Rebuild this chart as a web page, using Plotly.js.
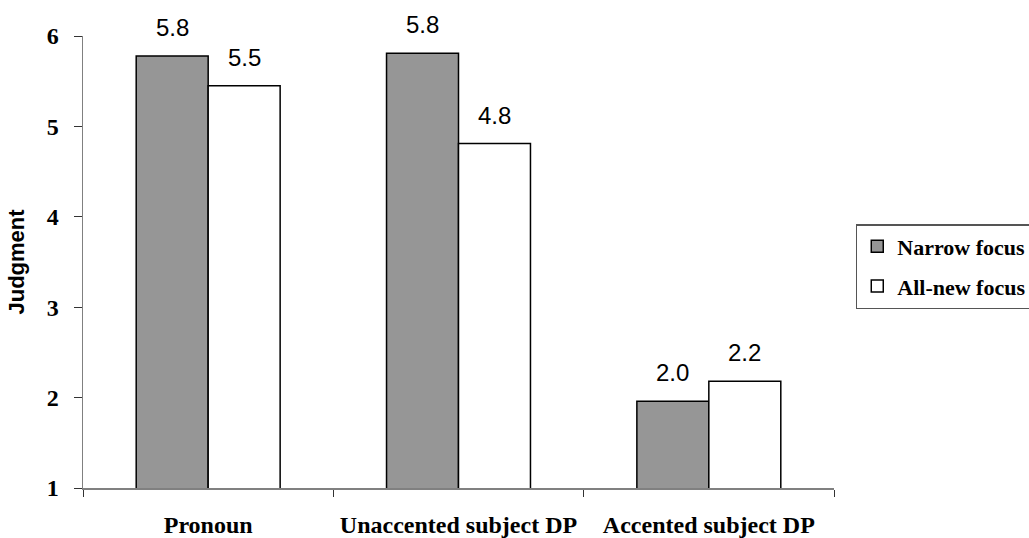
<!DOCTYPE html>
<html>
<head>
<meta charset="utf-8">
<script src="https://cdn.plot.ly/plotly-3.0.1.min.js"></script>
<style>html,body{margin:0;padding:0;background:#fff;}#chart{width:1029px;height:538px;}</style>
</head>
<body>
<div id="chart"></div>
<script>
const categories = ["Pronoun", "Unaccented subject DP", "Accented subject DP"];
const narrowFocus = [5.78, 5.81, 1.96];
const allNewFocus = [5.45, 4.81, 2.18];
const seriesNames = ["Narrow focus", "All-new focus"];
const yTicks = [1, 2, 3, 4, 5, 6];

const barLine = {color: "#000000", width: 1.5};
const traces = [
  {type: "bar", name: seriesNames[0], legendgroup: "a", x: categories, y: narrowFocus,
   marker: {color: "#969696", line: barLine}, hoverinfo: "none"},
  {type: "bar", name: seriesNames[1], legendgroup: "b", x: categories, y: allNewFocus,
   marker: {color: "#ffffff", line: barLine}, hoverinfo: "none"}
];

const labelFont = {family: "Liberation Sans, Arial, sans-serif", size: 24, color: "#000"};
const annotations = [];
[[narrowFocus, -36], [allNewFocus, 36]].forEach(([vals, dx]) => {
  vals.forEach((v, i) => {
    annotations.push({x: categories[i], y: v, xref: "x", yref: "y", text: v.toFixed(1),
      showarrow: false, xshift: dx, yshift: 13, yanchor: "bottom", font: labelFont});
  });
});

const serifBold = {family: "Liberation Serif, Times New Roman, serif", color: "#000", weight: "bold"};

const layout = {
  width: 1029, height: 538,
  paper_bgcolor: "#fff", plot_bgcolor: "#fff",
  margin: {l: 83, r: 195, t: 36, b: 50, autoexpand: false},
  barmode: "group", bargap: 0.425, bargroupgap: 0,
  showlegend: true,
  legend: {x: 1.029, xanchor: "left", y: 0.584, yanchor: "top",
    bordercolor: "#555", borderwidth: 1.5, bgcolor: "#fff",
    font: Object.assign({size: 22}, serifBold),
    traceorder: "grouped", tracegroupgap: 8, itemwidth: 30},
  xaxis: {type: "category", showline: true, linecolor: "#808080", linewidth: 1.5,
    ticks: "outside", tickson: "boundaries", ticklen: 7, tickcolor: "#333", tickwidth: 1,
    showgrid: false, zeroline: false, ticklabelstandoff: 15,
    tickfont: Object.assign({size: 24}, serifBold)},
  yaxis: {range: [1, 6], tickvals: yTicks, showline: true, linecolor: "#808080", linewidth: 1.5,
    ticks: "outside", ticklen: 8, tickcolor: "#333", tickwidth: 1,
    showgrid: false, zeroline: false, ticklabelstandoff: 10,
    tickfont: Object.assign({size: 24}, serifBold),
    title: {text: "Judgment", standoff: 16,
      font: {family: "Liberation Sans, Arial, sans-serif", size: 22, color: "#000", weight: "bold"}}},
  annotations: annotations
};

Plotly.newPlot("chart", traces, layout, {staticPlot: true, displayModeBar: false});
</script>
</body>
</html>
